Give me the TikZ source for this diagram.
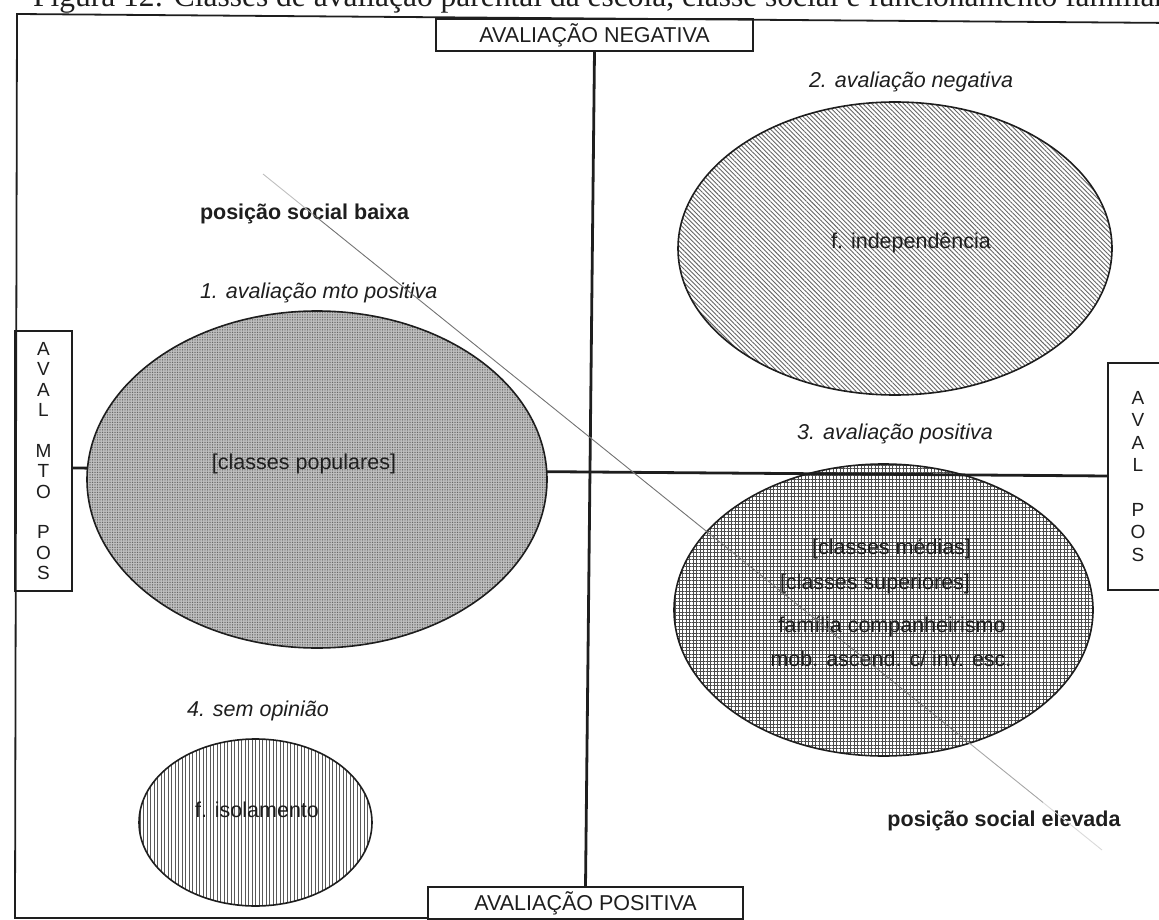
\documentclass[tikz,border=0pt]{standalone}
\usepackage{fontspec}
\setmainfont{Liberation Sans}
\newfontfamily\captionserif{Liberation Serif}
\usetikzlibrary{shapes.geometric,patterns.meta,calc}
\definecolor{ink}{HTML}{1E1E1E}

\begin{document}
\begin{tikzpicture}[x=1pt,y=-1pt,
  every node/.style={inner sep=0pt,outer sep=0pt},
  frameline/.style={draw=ink,line width=1.8pt},
  axisline/.style={draw=ink,line width=2.8pt},
  axisbox/.style={draw=ink,line width=1.6pt,fill=white,
    font=\fontsize{21.5}{24}\selectfont,text=ink},
  sidebox/.style={draw=ink,line width=1.6pt,fill=white,align=center,text=ink},
  blob/.style={ellipse,draw=ink,line width=1.6pt},
  txt/.style={font=\fontsize{21.5}{24}\selectfont,text=ink},
  diag/.style={line width=0.9pt}
]
\useasboundingbox (0,0) rectangle (1159,920);
\clip (0,0) rectangle (1159,920);

% caption running above the frame
\node[anchor=base west,font=\captionserif\fontsize{31.5}{34}\selectfont,text=ink]
  (title) at (33,7) {Figura 12: Classes de avaliação parental da escola, classe social e funcionamento familiar};

% axis labels
\node[axisbox,minimum width=317,minimum height=32] (neg) at (594.5,35)
  {AVALIAÇÃO NEGATIVA};
\node[axisbox,minimum width=315,minimum height=32] (pos) at (585.5,903)
  {AVALIAÇÃO POSITIVA};
\node[sidebox,minimum width=57,minimum height=260,
  font=\fontsize{19}{20.4}\selectfont] (lbox) at (43.5,461)
  {A\\V\\A\\L\\[20.4pt]M\\T\\O\\[20.4pt]P\\O\\S};
\node[sidebox,minimum width=60,minimum height=227,
  font=\fontsize{19}{22.4}\selectfont] (rbox) at (1138,476.5)
  {A\\V\\A\\L\\[22.4pt]P\\O\\S};

% outer frame (slightly tilted, as printed)
\coordinate (fTR) at (1175,23);
\coordinate (fTL) at (17,14);
\coordinate (fBL) at (15,918);
\draw[frameline] (fTR) -- (fTL) -- (fBL) -- (fBL -| pos.west);

% right-hand groups
\node[blob,preaction={fill=white},
  pattern={Lines[angle=-45,distance=3.2pt,line width=0.9pt]},pattern color=black!60,
  minimum width=434,minimum height=293] (indep) at (895,248.5) {};
\node[blob,preaction={fill=white},
  pattern={Hatch[angle=0,distance=3.5pt,line width=0.8pt]},pattern color=black!70,
  minimum width=419,minimum height=292] (medias) at (883.5,610) {};

% horizontal axis
\coordinate (hl) at (72,468);
\coordinate (hr) at (1108,476);
\draw[axisline] (hl) -- (hr);

% left-hand groups
\node[blob,preaction={fill=black!25},
  pattern={Dots[distance=2.5pt,radius=0.75pt]},pattern color=black!60,
  minimum width=460,minimum height=337] (popul) at (317,479.5) {};
\node[blob,preaction={fill=white},
  pattern={Lines[angle=90,distance=3.5pt,line width=0.7pt]},pattern color=black!65,
  minimum width=233,minimum height=167] (isol) at (255.5,822.5) {};

% vertical axis
\draw[axisline] (neg.south) -- (pos.north);

% labels
\node[txt,anchor=base west,font=\fontsize{21.5}{24}\selectfont\bfseries] (baixa) at (200,219) {posição social baixa};
\node[txt,anchor=base west,font=\fontsize{21.5}{24}\selectfont\itshape] (q1) at (200,298) {1. avaliação mto positiva};
\node[txt,anchor=base,font=\fontsize{21.5}{24}\selectfont\itshape] (q2) at (911,88) {2. avaliação negativa};
\node[txt,anchor=base,font=\fontsize{21.5}{24}\selectfont\itshape] (q3) at (895,439) {3. avaliação positiva};
\node[txt,anchor=base,font=\fontsize{21.5}{24}\selectfont\itshape] (q4) at (258,716) {4. sem opinião};
\node[txt,anchor=base,font=\fontsize{21.5}{24}\selectfont\bfseries] (elev) at (1004,826) {posição social elevada};

\node[txt,anchor=base] (tpop) at (304,469) {[classes populares]};
\node[txt,anchor=base] (tind) at (911,248) {f. independência};
\node[txt,anchor=base east] (tmed) at (971,554) {[classes médias]};
\node[txt,anchor=base east] (tsup) at (970,589) {[classes superiores]};
\node[txt,anchor=base] (tcomp) at (892,632) {família companheirismo};
\node[txt,anchor=base] (tmob) at (891,666) {mob. ascend. c/ inv. esc.};
\node[txt,anchor=base] (tiso) at (257,817) {f. isolamento};

% social-position diagonal, fading at both ends
\coordinate (dA) at (263,174);
\coordinate (dB) at (1102,850);
\draw[diag,draw=black!25] (dA) -- ($(dA)!0.06!(dB)$);
\draw[diag,draw=black!55] ($(dA)!0.06!(dB)$) -- ($(dA)!0.84!(dB)$);
\draw[diag,draw=black!35] ($(dA)!0.84!(dB)$) -- ($(dA)!0.93!(dB)$);
\draw[diag,draw=black!15] ($(dA)!0.93!(dB)$) -- (dB);
\end{tikzpicture}
\end{document}
